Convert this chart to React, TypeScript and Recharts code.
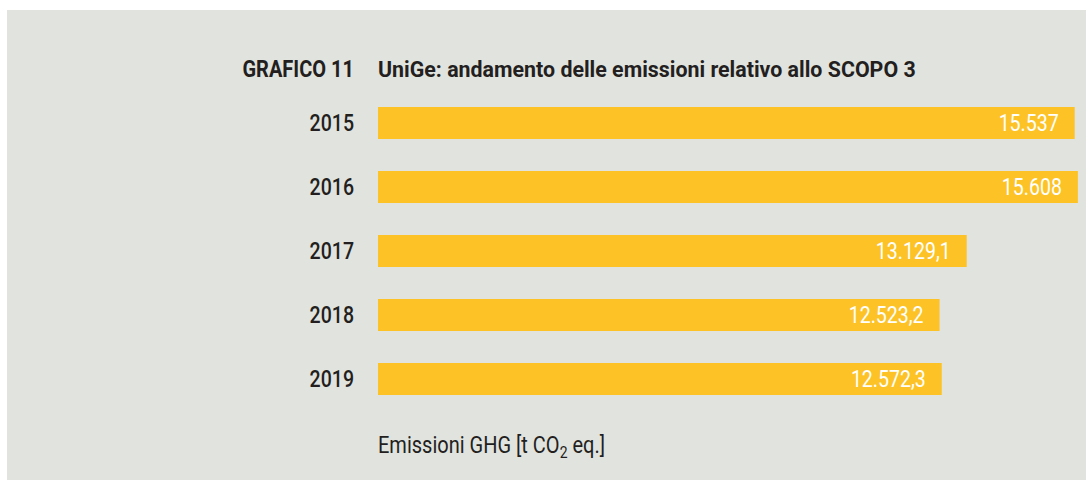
import { Bar, BarChart, LabelList, XAxis, YAxis } from 'recharts'

const years = ['2015', '2016', '2017', '2018', '2019']
const emissions = [15537, 15608, 13129.1, 12523.2, 12572.3]
const valueLabels = ['15.537', '15.608', '13.129,1', '12.523,2', '12.572,3']

const data = years.map((year, i) => ({
  year,
  value: emissions[i],
  label: valueLabels[i],
}))

const FONT = 'Roboto, "Noto Sans", sans-serif'
const DARK = '#231f20'
const BAR = '#fdc326'
const PANEL = '#e1e3df'

// no condensed face installed, so squeeze Roboto horizontally
function CondText({ x, y, anchor = 'start', size = 23, weight = 400, fill = DARK, sx = 0.85, children }: any) {
  return (
    <text
      transform={`translate(${x},${y}) scale(${sx},1)`}
      textAnchor={anchor}
      fontSize={size}
      fontWeight={weight}
      fontFamily={FONT}
      fill={fill}
    >
      {children}
    </text>
  )
}

function YearTick({ x, y, payload }: any) {
  return (
    <CondText x={x} y={y + 8} anchor="end" weight={500}>
      {payload.value}
    </CondText>
  )
}

function ValueLabel({ x, y, width, height, value }: any) {
  return (
    <CondText x={x + width - 16} y={y + height / 2 + 8} anchor="end" fill="#ffffff">
      {value}
    </CondText>
  )
}

export default function App() {
  return (
    <div
      style={{
        position: 'absolute',
        left: 0,
        top: 0,
        width: 1086,
        height: 487,
        background: '#ffffff',
        fontFamily: FONT,
      }}
    >
      <div
        style={{
          position: 'absolute',
          left: 7,
          top: 10,
          width: 1079,
          height: 470,
          background: PANEL,
        }}
      />
      <div style={{ position: 'absolute', left: 0, top: 0 }}>
        <BarChart
          width={1086}
          height={487}
          data={data}
          layout="vertical"
          margin={{ top: 91, right: 4, bottom: 76, left: 300 }}
          barCategoryGap={16}
        >
          <XAxis type="number" domain={[0, 15700]} hide />
          <YAxis
            type="category"
            dataKey="year"
            width={78}
            axisLine={false}
            tickLine={false}
            tickSize={0}
            tickMargin={24}
            tick={<YearTick />}
          />
          <Bar dataKey="value" fill={BAR} isAnimationActive={false}>
            <LabelList dataKey="label" content={<ValueLabel />} />
          </Bar>
        </BarChart>
      </div>
      <svg
        width={1086}
        height={487}
        style={{ position: 'absolute', left: 0, top: 0, pointerEvents: 'none' }}
      >
        <CondText x={354} y={77} anchor="end" weight={700} sx={0.87}>
          GRAFICO 11
        </CondText>
        <CondText x={378} y={77} weight={700} sx={0.93}>
          UniGe: andamento delle emissioni relativo allo SCOPO 3
        </CondText>
        <CondText x={378} y={453} sx={0.87}>
          Emissioni GHG [t CO
          <tspan fontSize={16} dy={5}>2</tspan>
          <tspan dy={-5}> eq.]</tspan>
        </CondText>
      </svg>
    </div>
  )
}
